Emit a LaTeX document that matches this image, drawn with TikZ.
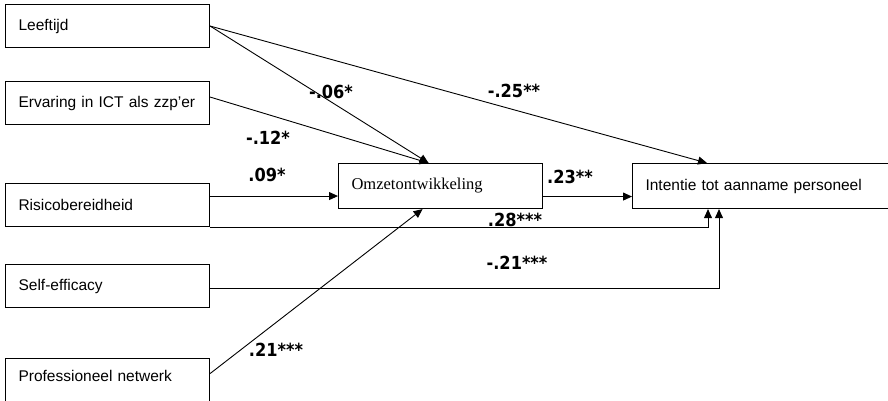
\documentclass[tikz,border=0pt]{standalone}
\usepackage{fontspec}
\setmainfont{Liberation Sans}
\newfontfamily\serifface{Liberation Serif}
\newfontfamily\coefface{DejaVu Sans Condensed}
\usetikzlibrary{arrows.meta}
\tikzset{
  varbox/.style={draw, line width=1.1pt, rectangle, anchor=north west, inner xsep=13pt, inner ysep=0pt,
    minimum width=204pt, minimum height=43pt, align=left, font=\fontsize{15.5}{18}\selectfont},
  path/.style={line width=0.9pt},
  arr/.style={path, -{Triangle[length=9pt,width=8pt]}},
  coef/.style={font=\coefface\bfseries\fontsize{18}{21}\selectfont, inner sep=0pt}
}
\begin{document}
\begin{tikzpicture}[x=1pt, y=-1pt]
\useasboundingbox (0,0) rectangle (888,401);
% predictor boxes
\node[varbox, text width=178pt] (lee)  at (5,4)   {Leeftijd};
\node[varbox, text width=178pt] (erv)  at (5,81)  {Ervaring in ICT als zzp’er};
\node[varbox, text width=178pt] (ris)  at (5,183) {Risicobereidheid};
\node[varbox, text width=178pt] (self) at (5,264) {Self-efficacy};
\node[varbox, text width=178pt, minimum height=52pt, text depth=17pt] (prof) at (5,358) {Professioneel netwerk};
% mediator and outcome
\node[varbox, minimum height=45pt, text width=178pt, font=\serifface\fontsize{16.5}{19}\selectfont] (omz) at (338,163) {Omzetontwikkeling};
\node[varbox, minimum height=45pt, minimum width=280pt, text width=254pt] (int) at (632,163) {Intentie tot aanname personeel};
% paths
\draw[arr] (lee.east) -- ([xshift=-12pt]omz.north);
\draw[arr] (lee.east) -- ([xshift=75pt]int.north west);
\draw[arr] ([yshift=6pt]erv.east) -- ([xshift=-12pt]omz.north);
\coordinate (r1) at ([yshift=9pt]ris.east);
\draw[arr] (r1) -- (r1 -| omz.west);
\draw[arr] (ris.south east) -| ([xshift=76pt]int.south west);
\draw[arr] ([yshift=-2pt]self.east) -| ([xshift=87pt]int.south west);
\draw[arr] ([yshift=11pt]prof.east) -- ([xshift=-18pt]omz.south);
\coordinate (o1) at ([yshift=-10.5pt]omz.east);
\draw[arr] (o1) -- (o1 -| int.west);
% coefficients
\node[coef] (c1) at (331,92)  {-.06*};
\node[coef] (c2) at (514,91)  {-.25**};
\node[coef] (c3) at (268,138) {-.12*};
\node[coef] (c4) at (267,175) {.09*};
\node[coef] (c5) at (570,177) {.23**};
\node[coef] (c6) at (515,220) {.28***};
\node[coef] (c7) at (517,263) {-.21***};
\node[coef] (c8) at (276,350) {.21***};
\end{tikzpicture}
\end{document}
